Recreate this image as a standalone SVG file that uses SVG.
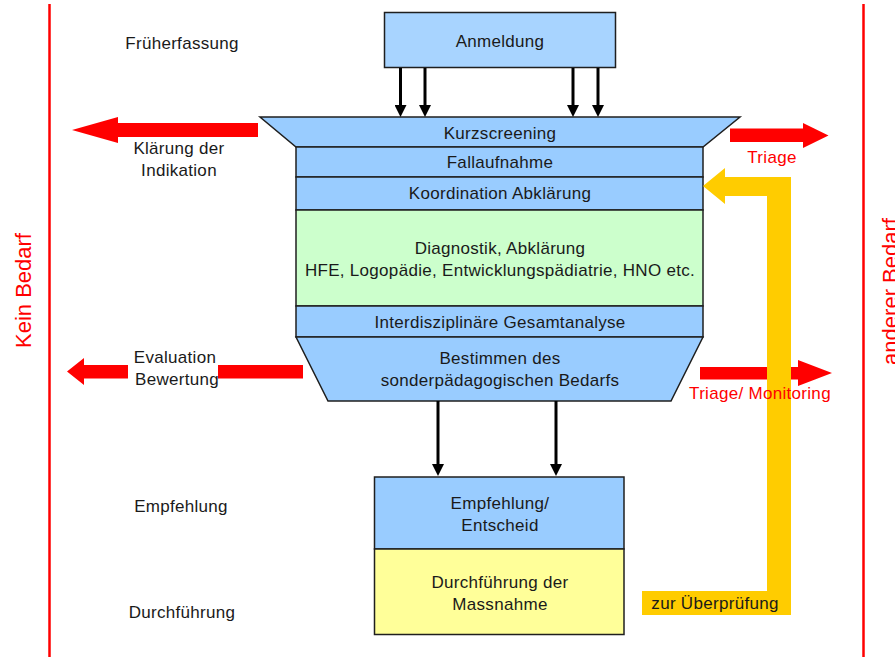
<svg xmlns="http://www.w3.org/2000/svg" width="895" height="657" viewBox="0 0 895 657">
<style>
text{font-family:"Liberation Sans",Arial,sans-serif;font-size:17px;letter-spacing:0.3px;fill:#1a1a1a;text-anchor:middle}
.red{fill:#ff0000}
.big{font-size:22px;letter-spacing:0}
.box{stroke:#1f1f1f;stroke-width:1.5}
.blue{fill:#99ccff}
.conn{stroke:#000;stroke-width:3;fill:none}
.rarrow{fill:#ff0000}
.vline{stroke:#ff0000;stroke-width:2.5}
</style>
<defs>
<marker id="ah" viewBox="0 0 12 12" refX="6" refY="6" markerWidth="12" markerHeight="12" markerUnits="userSpaceOnUse" orient="auto">
<path d="M0,0 L12,6 L0,12 z" fill="#000"/>
</marker>
</defs>
<rect width="895" height="657" fill="#fff"/>

<g id="borders">
<line class="vline" x1="49.5" y1="4" x2="49.5" y2="657"/>
<line class="vline" x1="863.5" y1="4" x2="863.5" y2="657"/>
<text class="red big" transform="translate(31 290.5) rotate(-90)">Kein Bedarf</text>
<text class="red big" transform="translate(897.5 291.5) rotate(-90)">anderer Bedarf</text>
</g>

<g id="phase-labels">
<text x="182" y="49">Früherfassung</text>
<text x="181" y="512">Empfehlung</text>
<text x="182" y="618">Durchführung</text>
</g>

<g id="anmeldung">
<rect class="box" x="384.5" y="12.5" width="231" height="55" fill="#a8d4ff"/>
<text x="500" y="47">Anmeldung</text>
</g>

<g id="kurzscreening">
<polygon class="box blue" points="260,117 740,117 703,147 296,147"/>
<text x="500" y="139">Kurzscreening</text>
</g>

<g id="fallaufnahme">
<rect class="box blue" x="296" y="147" width="407" height="30"/>
<text x="500" y="168">Fallaufnahme</text>
</g>

<g id="koordination">
<rect class="box blue" x="296" y="177" width="407" height="33"/>
<text x="500" y="199">Koordination Abklärung</text>
</g>

<g id="diagnostik">
<rect class="box" x="296" y="210" width="407" height="96" fill="#ccffcc"/>
<text x="500" y="254">Diagnostik, Abklärung</text>
<text x="500" y="276">HFE, Logopädie, Entwicklungspädiatrie,  HNO etc.</text>
</g>

<g id="gesamtanalyse">
<rect class="box blue" x="296" y="306" width="407" height="31"/>
<text x="500" y="328">Interdisziplinäre  Gesamtanalyse</text>
</g>

<g id="bestimmen">
<polygon class="box blue" points="296,337 703,337 671,401 328,401"/>
<text x="500" y="364">Bestimmen des</text>
<text x="500" y="386">sonderpädagogischen  Bedarfs</text>
</g>

<g id="empfehlung">
<rect class="box blue" x="374.5" y="477" width="249.5" height="72"/>
<text x="500" y="509">Empfehlung/</text>
<text x="500" y="531">Entscheid</text>
</g>

<g id="durchfuehrung">
<rect class="box" x="374.5" y="549" width="249.5" height="85.5" fill="#ffff99"/>
<text x="500" y="588">Durchführung der</text>
<text x="500" y="610">Massnahme</text>
</g>

<g id="connectors">
<line class="conn" x1="400.5" y1="68" x2="400.5" y2="111" marker-end="url(#ah)"/>
<line class="conn" x1="425" y1="68" x2="425" y2="111" marker-end="url(#ah)"/>
<line class="conn" x1="573" y1="68" x2="573" y2="111" marker-end="url(#ah)"/>
<line class="conn" x1="598" y1="68" x2="598" y2="111" marker-end="url(#ah)"/>
<line class="conn" x1="438" y1="401" x2="438" y2="470" marker-end="url(#ah)"/>
<line class="conn" x1="556" y1="401" x2="556" y2="470" marker-end="url(#ah)"/>

<polygon class="rarrow" points="72,130 118,117 118,123 258,123 258,137 118,137 118,143"/>
<path class="rarrow" d="M67,371.5 L84,358 L84,365 L128,365 L128,378.5 L84,378.5 L84,385 Z M218,365 L303,365 L303,378.5 L218,378.5 Z"/>
<polygon class="rarrow" points="730,128.5 803,128.5 803,123 828.5,135.5 803,148 803,142 730,142"/>
<polygon class="rarrow" points="700,367 798,367 798,360 832,373 798,386 798,379.5 700,379.5"/>
<polygon fill="#ffcc00" points="703,186 725,168 725,177 791,177 791,615 642,615 642,591 767,591 767,196 725,196 725,204"/>
</g>

<g id="connector-labels">
<text x="179" y="154">Klärung der</text>
<text x="179" y="176">Indikation</text>
<text x="175" y="363">Evaluation</text>
<text x="177" y="385">Bewertung</text>
<text class="red" x="772" y="163">Triage</text>
<text class="red" x="760" y="399">Triage/ Monitoring</text>
<text x="715" y="609">zur Überprüfung</text>
</g>
</svg>
